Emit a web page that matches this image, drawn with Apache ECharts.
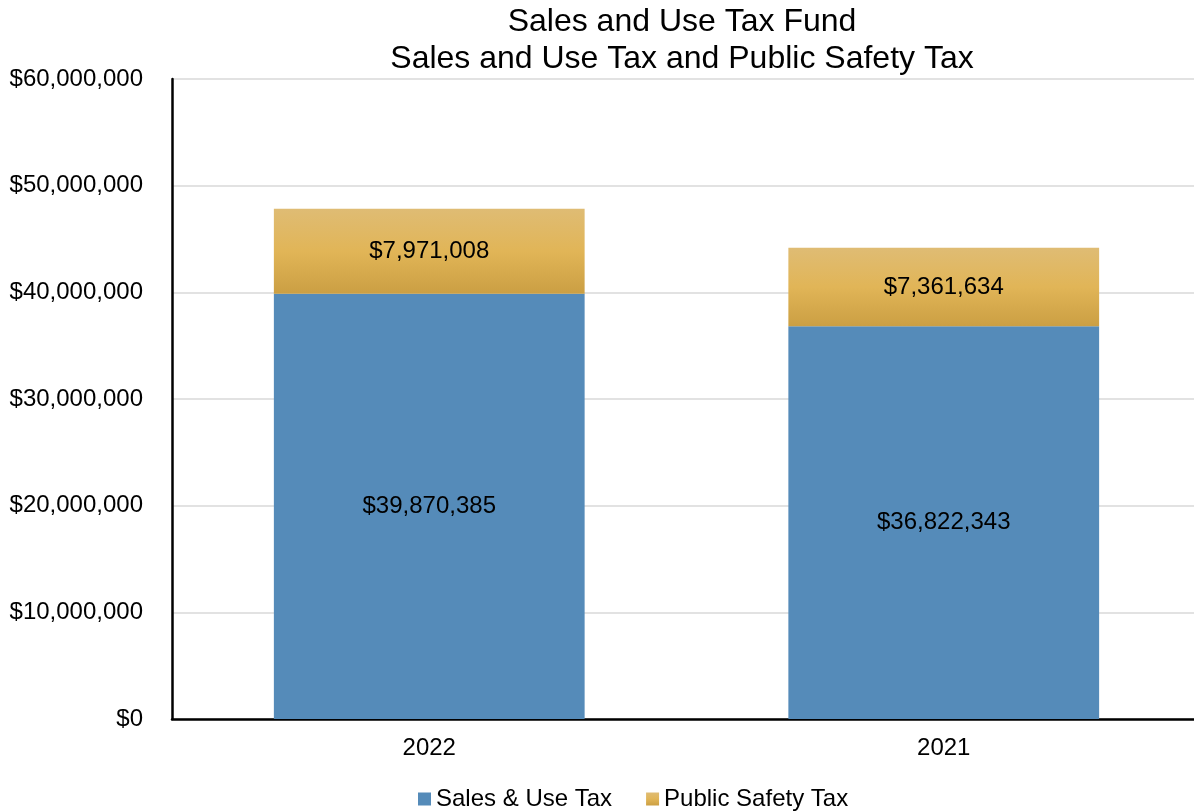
<!DOCTYPE html>
<html>
<head>
<meta charset="utf-8">
<script src="https://cdn.jsdelivr.net/npm/echarts@6/dist/echarts.min.js"></script>
<style>
  html, body { margin: 0; padding: 0; background: #ffffff; overflow: hidden; width: 1194px; height: 812px; }
  /* the drawing surface runs a few pixels past the right edge so the plot area is clipped there */
  #chart { width: 1201px; height: 812px; }
</style>
</head>
<body>
<div id="chart"></div>
<script>
// Fiscal years and revenue by tax type
const years = ['2022', '2021'];
const salesUseTax = [39870385, 36822343];
const publicSafetyTax = [7971008, 7361634];
const seriesNames = ['Sales & Use Tax', 'Public Safety Tax'];
const titleLines = ['Sales and Use Tax Fund', 'Sales and Use Tax and Public Safety Tax'];

const FONT = 'Liberation Sans, Arial, sans-serif';
const money = v => '$' + Math.round(v).toLocaleString('en-US');

const goldFill = new echarts.graphic.LinearGradient(0, 0, 0, 1, [
  { offset: 0, color: '#dfbc74' },
  { offset: 0.5, color: '#e1b557' },
  { offset: 1, color: '#cb9f43' }
]);

const chart = echarts.init(document.getElementById('chart'), null, { renderer: 'canvas' });
chart.setOption({
  animation: false,
  textStyle: { fontFamily: FONT },
  title: {
    text: titleLines.join('\n'),
    left: 677,
    textAlign: 'center',
    top: -1,
    textStyle: { fontFamily: FONT, fontSize: 32, fontWeight: 'normal', color: '#000', lineHeight: 37 }
  },
  legend: {
    data: seriesNames,
    top: 782,
    left: 413,
    itemWidth: 13,
    itemHeight: 13,
    itemGap: 34,
    icon: 'rect',
    textStyle: { fontFamily: FONT, fontSize: 24, color: '#000' }
  },
  grid: { left: 172, right: 0, top: 79, height: 640, containLabel: false },
  xAxis: {
    type: 'category',
    data: years,
    axisLine: { lineStyle: { color: '#000', width: 2.5 } },
    axisTick: { show: false },
    axisLabel: { fontFamily: FONT, fontSize: 24, color: '#000', margin: 17 }
  },
  yAxis: {
    type: 'value',
    min: 0,
    max: 60000000,
    interval: 10000000,
    axisLine: { show: true, lineStyle: { color: '#000', width: 2.5 } },
    axisTick: { show: false },
    splitLine: { lineStyle: { color: '#d9d9d9', width: 1.5 } },
    axisLabel: { fontFamily: FONT, fontSize: 24, color: '#000', margin: 29, formatter: money }
  },
  series: [
    {
      name: seriesNames[0],
      type: 'bar',
      stack: 'total',
      barWidth: '60.4%',
      data: salesUseTax,
      itemStyle: { color: '#558bb9' },
      label: { show: true, position: 'inside', fontFamily: FONT, fontSize: 24, color: '#000', formatter: p => money(p.value) }
    },
    {
      name: seriesNames[1],
      type: 'bar',
      stack: 'total',
      barWidth: '60.4%',
      data: publicSafetyTax,
      itemStyle: { color: goldFill },
      label: { show: true, position: 'inside', fontFamily: FONT, fontSize: 24, color: '#000', formatter: p => money(p.value) }
    }
  ]
});
</script>
</body>
</html>
